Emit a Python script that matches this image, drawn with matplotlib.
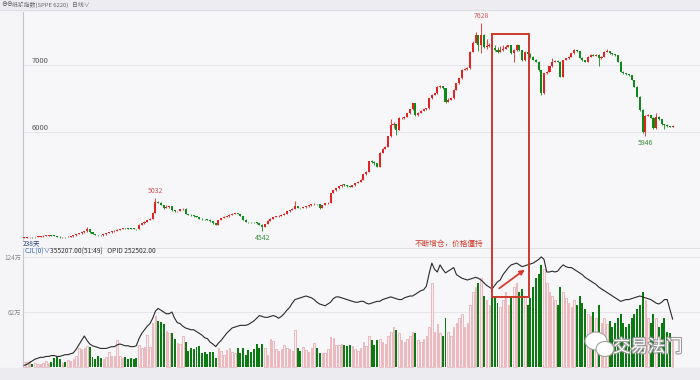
import numpy as np
import matplotlib
matplotlib.use('Agg')
import matplotlib.pyplot as plt
from matplotlib.patches import Rectangle, FancyArrowPatch, Ellipse
from matplotlib.lines import Line2D
import matplotlib.patheffects as pe

plt.rcParams['font.family'] = ['Noto Sans CJK SC', 'DejaVu Sans']

# daily candles, pulp index
open_ = [4435,4440,4445,4452,4445,4450,4455,4460,4465,4470,
         4476,4470,4468,4455,4445,4450,4448,4455,4460,4475,
         4495,4505,4520,4535,4570,4520,4495,4480,4475,4472,
         4490,4508,4520,4535,4545,4558,4570,4582,4578,4575,
         4572,4570,4567,4630,4650,4672,4700,4722,4810,4975,
         4960,4925,4880,4895,4905,4850,4830,4835,4860,4868,
         4790,4780,4770,4755,4745,4722,4715,4710,4705,4680,
         4655,4632,4700,4732,4750,4755,4780,4790,4795,4792,
         4760,4705,4672,4670,4668,4665,4650,4630,4605,4640,
         4690,4720,4745,4758,4765,4780,4795,4830,4850,4870,
         4905,4880,4878,4890,4903,4920,4937,4940,4935,4880,
         4925,4952,4960,5100,5140,5170,5200,5223,5220,5205,
         5198,5215,5250,5270,5297,5380,5420,5570,5560,5544,
         5494,5700,5760,5790,5940,6110,6120,6037,6210,6215,
         6230,6284,6340,6432,6259,6290,6323,6340,6358,6506,
         6555,6580,6678,6690,6654,6456,6480,6506,6629,6728,
         6802,6925,6940,6950,7196,7330,7443,7295,7443,7270,
         7280,7290,7250,7221,7196,7220,7240,7270,7290,7172,
         7215,7295,7220,7073,7196,7160,7122,7080,7048,6925,
         6580,6876,6900,6980,7048,7063,7050,6826,7073,7100,
         7122,7172,7221,7200,7110,7073,7048,7122,7147,7140,
         7150,7098,7122,7196,7200,7172,7160,7147,7048,6900,
         6876,6860,6851,6777,6678,6530,6333,6000,6250,6260,
         6220,6062,6234,6200,6120,6111,6090,6086]
close_ = [4440,4445,4450,4445,4450,4455,4460,4465,4470,4475,
          4470,4468,4455,4445,4450,4448,4455,4460,4475,4495,
          4505,4520,4535,4570,4520,4495,4480,4475,4472,4490,
          4508,4520,4535,4545,4558,4570,4582,4578,4575,4572,
          4570,4567,4630,4650,4672,4700,4722,4810,4975,4960,
          4925,4880,4895,4905,4850,4830,4835,4860,4868,4790,
          4780,4770,4755,4745,4722,4715,4710,4705,4680,4655,
          4632,4700,4732,4750,4755,4780,4790,4795,4792,4760,
          4705,4672,4670,4668,4665,4650,4630,4605,4640,4690,
          4720,4745,4758,4765,4780,4795,4830,4850,4870,4905,
          4880,4878,4890,4903,4920,4937,4940,4935,4880,4925,
          4952,4960,5100,5140,5170,5200,5223,5220,5205,5198,
          5215,5250,5270,5297,5380,5420,5570,5560,5544,5494,
          5700,5760,5790,5940,6110,6120,6037,6210,6215,6230,
          6284,6340,6432,6259,6290,6323,6340,6358,6506,6555,
          6580,6678,6690,6654,6456,6480,6506,6629,6728,6802,
          6925,6940,6950,7196,7330,7443,7295,7443,7270,7280,
          7290,7250,7221,7196,7220,7240,7270,7290,7172,7215,
          7295,7220,7073,7196,7160,7122,7080,7048,6925,6580,
          6876,6900,6980,7048,7063,7050,6826,7073,7100,7122,
          7172,7221,7200,7110,7073,7048,7122,7147,7140,7150,
          7098,7122,7196,7200,7172,7160,7147,7048,6900,6876,
          6860,6851,6777,6678,6530,6333,6000,6250,6260,6220,
          6062,6234,6200,6120,6111,6090,6086,6100]
high_ = [4448,4450,4455,4456,4456,4460,4466,4472,4476,4480,
         4480,4475,4470,4458,4455,4455,4460,4466,4480,4500,
         4512,4525,4542,4592,4575,4525,4500,4485,4480,4495,
         4512,4525,4540,4550,4565,4575,4590,4588,4582,4580,
         4578,4575,4636,4658,4680,4708,4730,4815,5032,4990,
         4965,4930,4930,4912,4910,4855,4842,4865,4875,4872,
         4795,4785,4775,4760,4750,4728,4720,4715,4710,4685,
         4660,4706,4738,4755,4760,4785,4798,4802,4800,4796,
         4765,4710,4678,4675,4672,4670,4655,4635,4646,4696,
         4726,4750,4764,4770,4786,4800,4836,4856,4876,4976,
         4910,4886,4896,4910,4926,4945,4948,4946,4940,4930,
         4958,4966,5108,5148,5178,5210,5232,5230,5225,5210,
         5220,5256,5276,5305,5388,5430,5580,5590,5570,5550,
         5710,5770,5800,5950,6200,6160,6130,6225,6230,6240,
         6295,6350,6440,6440,6300,6330,6350,6365,6515,6565,
         6590,6690,6700,6695,6660,6510,6515,6640,6738,6810,
         6935,6950,6965,7210,7350,7490,7450,7628,7455,7380,
         7330,7300,7300,7260,7280,7290,7300,7300,7295,7230,
         7305,7300,7225,7205,7200,7170,7130,7085,7055,6930,
         6885,6910,6990,7100,7075,7070,7055,7080,7110,7130,
         7180,7230,7228,7205,7115,7080,7130,7155,7155,7158,
         7155,7130,7205,7240,7205,7178,7165,7150,7052,6908,
         6882,6866,6856,6782,6685,6535,6340,6260,6270,6265,
         6225,6290,6240,6205,6125,6120,6095,6108]
low_ = [4430,4436,4440,4440,4442,4446,4450,4456,4460,4465,
        4465,4462,4450,4440,4440,4442,4444,4450,4456,4470,
        4490,4500,4515,4530,4510,4488,4475,4468,4465,4468,
        4485,4502,4515,4530,4540,4552,4565,4572,4570,4566,
        4565,4560,4562,4624,4645,4666,4695,4718,4805,4950,
        4918,4860,4872,4885,4842,4822,4825,4830,4855,4785,
        4772,4765,4750,4740,4716,4708,4704,4698,4675,4648,
        4625,4628,4695,4726,4745,4750,4775,4785,4785,4755,
        4700,4668,4664,4660,4658,4645,4622,4542,4598,4635,
        4685,4715,4740,4752,4760,4775,4790,4825,4845,4865,
        4872,4870,4872,4885,4898,4915,4930,4928,4870,4875,
        4920,4946,4955,5095,5135,5165,5195,5212,5198,5190,
        5192,5210,5245,5265,5290,5375,5415,5540,5520,5480,
        5490,5695,5750,5785,5935,6060,5960,6030,6195,6205,
        6225,6278,6330,6250,6250,6282,6315,6335,6350,6500,
        6548,6575,6665,6640,6440,6450,6475,6500,6622,6720,
        6795,6918,6930,6945,7190,7320,7200,7180,7250,7240,
        7260,7230,7210,7180,7190,7210,7230,7260,7160,7050,
        7205,7210,7060,7065,7150,7110,7070,7040,6910,6560,
        6575,6870,6895,6975,7040,7040,6815,6820,7068,7095,
        7118,7165,7190,7100,7065,7040,7042,7115,7130,7135,
        6990,7090,7115,7190,7165,7150,7140,7040,6890,6868,
        6850,6840,6770,6670,6520,6320,5990,5946,6240,6210,
        6050,6055,6190,6110,6050,6080,6075,6080]

# volume and open interest, in 万
volume = [6,6,7,4,5,3,4,5,7,5,
          6,10,11,9,5,6,8,7,9,12,
          21,20,22,24,23,11,9,12,10,9,
          11,17,13,12,31,12,10,11,9,10,
          9,10,25,21,23,36,23,50,58,52,
          51,49,41,38,38,32,27,26,35,28,
          18,22,20,23,24,16,17,15,17,17,
          10,21,18,14,19,22,17,16,22,16,
          22,14,19,17,20,26,21,26,21,14,
          32,29,20,18,20,25,22,20,18,42,
          21,18,23,19,17,21,27,22,16,16,
          16,20,34,33,25,25,26,25,24,25,
          24,20,18,22,28,24,35,30,25,30,
          32,28,26,35,40,45,42,38,30,28,
          32,35,40,38,30,28,32,35,45,95,
          40,48,38,35,55,40,35,45,50,55,
          60,45,50,70,85,90,95,100,80,75,
          70,78,80,72,68,75,85,70,80,90,
          95,85,88,80,70,78,90,100,105,115,
          110,95,85,80,75,70,90,85,78,72,
          68,75,70,80,72,65,60,58,62,55,
          70,50,55,48,52,45,50,55,60,50,
          45,48,55,60,65,70,85,75,55,50,
          60,55,45,50,55,40,38,30]
oi = [2,3,5,7,9,10,11,11,12,12,
      13,13,12,12,13,14,14,15,16,20,
      25,30,35,30,26,24,23,22,21,21,
      21,22,23,23,25,26,25,24,24,23,
      23,24,32,38,42,46,49,55,63,66,
      64,62,60,60,62,55,50,49,46,44,
      43,42,42,40,38,36,33,32,28,26,
      23,27,30,34,38,41,44,45,46,47,
      47,47,48,50,52,55,58,57,56,56,
      57,58,57,55,57,60,64,67,72,76,
      77,78,79,80,79,78,76,73,71,70,
      69,71,73,77,79,79,78,77,76,75,
      74,73,73,74,74,72,71,72,73,74,
      74,76,77,78,79,78,77,76,76,78,
      79,80,80,82,84,86,87,91,105,117,
      110,107,115,110,106,108,110,112,104,102,
      100,99,98,99,100,101,100,98,95,92,
      90,88,92,96,98,104,108,112,115,116,
      117,115,113,114,115,116,117,119,121,124,
      121,107,107,108,107,108,112,115,113,112,
      112,110,108,106,104,101,99,97,95,93,
      90,88,86,84,82,80,78,76,74,75,
      76,76,77,78,79,80,79,78,77,76,
      74,72,71,73,76,76,65,54]

price_ticks = [6000, 7000]
vol_ticks = [62, 124]
vol_tick_labels = ['62万', '124万']
date_idx = [27, 70, 108, 151, 190, 229]
date_labels = ['2020/08/03', '2020/10/09', '2020/12/01', '2021/02/01', '2021/04/01', '2021/06/01']
marks = [(48, 5032, 'high'), (87, 4542, 'low'), (167, 7628, 'high'), (227, 5946, 'low')]

RED = '#e3231f'
GREEN = '#0d8a17'
W, H = 700, 380

def fx(px):
    return px / W

def fy(py):
    return 1 - py / H

fig = plt.figure(figsize=(7, 3.8), dpi=100, facecolor='#f5f5f8')
fig.patches.append(Rectangle((0, fy(10)), 1, 10 / H, transform=fig.transFigure, color='#ededf1', zorder=0))
fig.patches.append(Rectangle((0, 0), 1, 12 / H, transform=fig.transFigure, color='#ececf0', zorder=0))

ax = fig.add_axes([fx(23), fy(240), fx(700) - fx(23), fy(12) - fy(240)])
axv = fig.add_axes([fx(23), fy(368), fx(700) - fx(23), fy(248) - fy(368)])

o = np.array(open_)
c = np.array(close_)
hi = np.array(high_)
lo = np.array(low_)
x = np.arange(len(c))
up = c >= o
cols = np.where(up, RED, GREEN)

# candles
ax.vlines(x, lo, hi, colors=cols, lw=0.6, zorder=2)
body = np.maximum(np.abs(c - o), 8)
ax.bar(x, body, bottom=np.minimum(o, c), width=0.75, color=cols, lw=0, zorder=3)

ax.set_xlim(-0.4, 247)
ax.set_ylim(4405, 7785)
ax.set_facecolor('#f7f7fa')
ax.set_yticks(price_ticks)
ax.set_yticklabels([str(t) for t in price_ticks])
ax.tick_params(axis='y', direction='in', length=0, pad=-6, labelsize=5.5, labelcolor='#555555')
for lab in ax.get_yticklabels():
    lab.set_horizontalalignment('left')
    lab.set_verticalalignment('bottom')
ax.set_xticks([])
ax.grid(axis='y', color='#e0e0e6', lw=0.6)
for s in ['top', 'right', 'bottom']:
    ax.spines[s].set_visible(False)
ax.spines['left'].set_color('#c4c4cc')
ax.spines['left'].set_linewidth(0.8)

for xi, val, kind in marks:
    if kind == 'high':
        ax.annotate(str(val), (xi, val), xytext=(0, 2), textcoords='offset points',
                    ha='center', va='bottom', fontsize=5, color='#d05858')
    else:
        ax.annotate(str(val), (xi, val), xytext=(0, -2), textcoords='offset points',
                    ha='center', va='top', fontsize=5, color='#3a8f3a')

# volume + open interest
v = np.array(volume)
axv.bar(x[~up], v[~up], width=0.72, color='#0b7a12', lw=0, zorder=2)
axv.bar(x[up], v[up], width=0.55, facecolor='#f8f2f4', edgecolor='#e6a0a6', lw=0.5, zorder=2)
axv.plot(x, oi, color='#2a2a2a', lw=0.8, zorder=3)
axv.set_xlim(-0.4, 247)
axv.set_ylim(-1, 134)
axv.set_facecolor('#f7f7fa')
axv.set_yticks(vol_ticks)
axv.set_yticklabels(vol_tick_labels)
axv.tick_params(axis='y', length=0, pad=1, labelsize=4.6, labelcolor='#8a8a8a')
axv.set_xticks(date_idx)
axv.set_xticklabels(date_labels)
axv.tick_params(axis='x', length=0, pad=2, labelsize=4.2, labelcolor='#777777')
axv.grid(axis='y', color='#e2e2e8', lw=0.6)
for s in ['top', 'right']:
    axv.spines[s].set_visible(False)
axv.spines['left'].set_color('#c4c4cc')
axv.spines['left'].set_linewidth(0.8)
axv.spines['bottom'].set_color('#d4d4da')
axv.spines['bottom'].set_linewidth(0.8)

# header and panel captions
fig.text(fx(1), fy(5), '⊖⊖', fontsize=4.2, color='#555555', va='center')
fig.text(fx(12), fy(5), '纸浆指数(SPPE 6220)', fontsize=4.2, color='#666666', va='center')
fig.text(fx(72), fy(5), '日线∨', fontsize=4.2, color='#666666', va='center')
fig.add_artist(Line2D([0, 1], [fy(10), fy(10)], color='#dcdce2', lw=0.6))
fig.text(fx(23), fy(243), '238天', fontsize=4.8, color='#2a3f7a', va='center')
fig.add_artist(Line2D([fx(23), 1], [fy(247.5), fy(247.5)], color='#dcdce2', lw=0.6))
fig.text(fx(25), fy(252), 'CJL(0)∨', fontsize=4.8, color='#3a68c8', va='center')
fig.text(fx(50), fy(252), '355207.00(51:49)   OPID 252502.00', fontsize=4.8, color='#333333', va='center')

# annotation: box, arrow, note
fig.patches.append(Rectangle((fx(492), fy(297)), fx(529) - fx(492), fy(34) - fy(297),
                             transform=fig.transFigure, fill=False, edgecolor='#c93a2c', lw=1.4, zorder=5))
fig.add_artist(FancyArrowPatch((fx(497), fy(290)), (fx(527), fy(268)), transform=fig.transFigure,
                               arrowstyle='-|>', mutation_scale=7, color='#d53a2c', lw=1.3, zorder=6))
fig.text(fx(415), fy(244), '不断增仓，价格僵持', fontsize=5.5, color='#d23b2a', va='center')

# watermark
halo = [pe.withStroke(linewidth=1.6, foreground='#9a9a9a')]
fig.add_artist(Ellipse((fx(596), fy(341)), 22 / W, 18 / H, transform=fig.transFigure,
                       facecolor='white', edgecolor='#a0a0a0', lw=0.8, zorder=7))
fig.add_artist(Ellipse((fx(605), fy(349)), 18 / W, 15 / H, transform=fig.transFigure,
                       facecolor='white', edgecolor='#a0a0a0', lw=0.8, zorder=7))
fig.text(fx(613), fy(347), '交易法门', fontsize=12.5, color='white', va='center',
         path_effects=halo, zorder=8)

fig.savefig('out.png', dpi=100, facecolor=fig.get_facecolor())
